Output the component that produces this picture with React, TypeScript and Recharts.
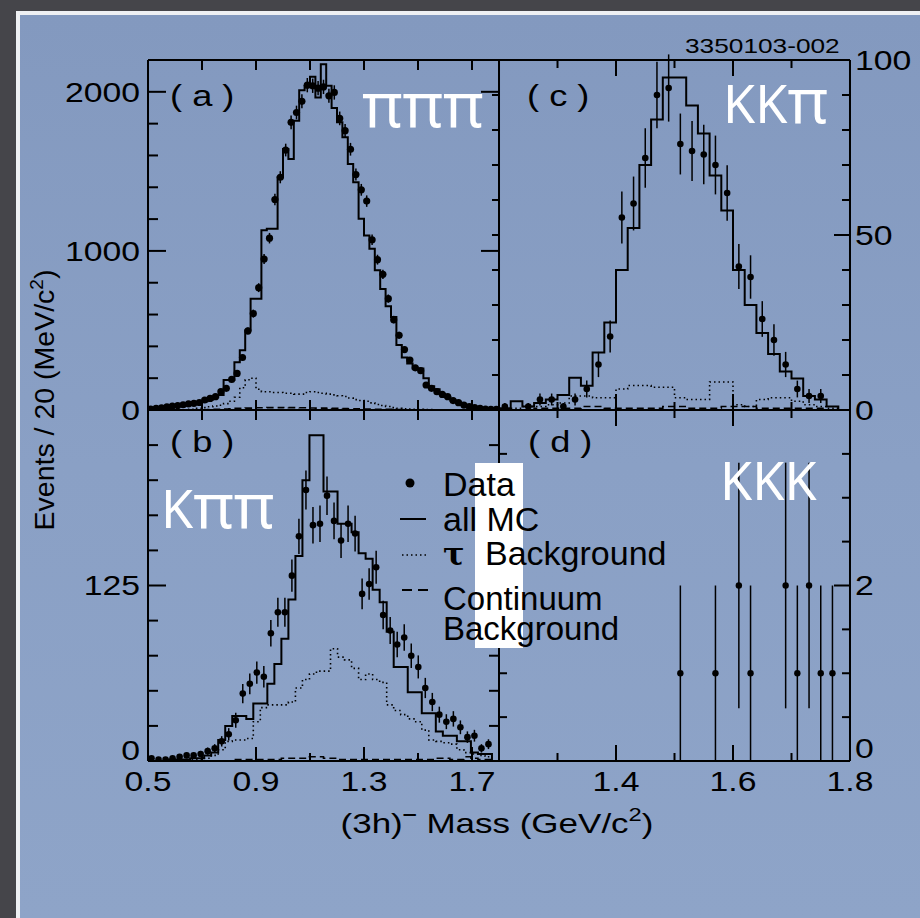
import React from "react";
import { ComposedChart, XAxis, YAxis, Line, Scatter, ErrorBar } from "recharts";

const W = 920;
const H = 918;
const FONT = "'Liberation Sans', Arial, Helvetica, sans-serif";
const HAND = "'Noto Sans', 'DejaVu Sans', sans-serif";
const TICK_COLOR = "#000";

// (a) pi pi pi : 65 bins of 20 MeV from 0.5 GeV
const A_START = 0.5;
const A_BIN = 0.02;
const aData = [5, 10, 14, 20, 25, 28, 33, 38, 42, 47, 63, 73, 84, 115, 136, 192, 230, 330, 497, 606, 769, 949, 1080, 1323, 1463, 1634, 1808, 1870, 1940, 2042, 2038, 2023, 2031, 1975, 1996, 1833, 1756, 1639, 1480, 1384, 1313, 1070, 945, 853, 700, 568, 470, 380, 314, 265, 247, 157, 136, 115, 98, 84, 59, 46, 31, 21, 15, 10, 6, 4, 4];
const aErr = [2, 3, 4, 4, 5, 5, 6, 6, 6, 7, 8, 9, 9, 11, 12, 14, 15, 18, 22, 25, 28, 31, 33, 36, 38, 40, 43, 43, 44, 45, 45, 45, 45, 44, 45, 43, 42, 40, 38, 37, 36, 33, 31, 29, 26, 24, 22, 19, 18, 16, 16, 13, 12, 11, 10, 9, 8, 7, 6, 5, 4, 3, 2, 2, 2];
const aMC = [5, 8, 12, 16, 20, 25, 30, 35, 40, 45, 55, 65, 80, 94, 188, 188, 300, 376, 500, 700, 700, 1130, 1139, 1139, 1463, 1640, 1578, 1818, 2010, 2038, 2094, 1965, 2174, 2038, 1898, 1808, 1714, 1547, 1432, 1202, 1097, 1014, 878, 760, 652, 585, 408, 330, 293, 261, 261, 199, 150, 130, 100, 80, 60, 45, 32, 22, 15, 10, 6, 4, 3];
const aTau = [0, 0, 0, 0, 0, 0, 2, 4, 5, 10, 15, 20, 25, 30, 40, 55, 80, 140, 190, 200, 130, 115, 115, 110, 110, 105, 105, 100, 100, 110, 115, 110, 105, 100, 95, 90, 85, 75, 65, 60, 55, 45, 35, 28, 22, 15, 10, 8, 6, 5, 4, 3, 3, 2, 2, 2, 1, 1, 1, 0, 0, 0, 0, 0, 0];
const aCont = [0, 0, 0, 0, 0, 0, 0, 0, 0, 0, 2, 3, 4, 5, 6, 8, 10, 10, 12, 12, 14, 14, 15, 15, 15, 16, 15, 15, 14, 14, 13, 12, 12, 11, 10, 10, 9, 8, 8, 7, 6, 6, 5, 5, 4, 4, 3, 3, 2, 2, 2, 1, 1, 1, 1, 0, 0, 0, 0, 0, 0, 0, 0, 0, 0];

// (b) K pi pi : 50 bins from 0.5 to 1.8 GeV
const B_START = 0.5;
const B_BIN = 0.026;
const bData = [2, 1, 1, 2, 3, 4, 4, 5, 7, 9, 14, 19, 29, 48, 55, 63, 60, 91, 106, 106, 132, 160, 193, 168, 169, 189, 171, 157, 169, 162, 119, 126, 138, 104, 93, 83, 88, 75, 67, 52, 42, 33, 28, 30, 24, 17, 18, 9, 12];
const bErr = [1.4, 1, 1, 1.4, 1.7, 2, 2, 2.2, 2.6, 3, 3.7, 4.4, 5.4, 6.9, 7.4, 7.9, 7.7, 9.5, 10.3, 10.3, 11.5, 12.6, 13.9, 13, 13, 13.7, 13.1, 12.5, 13, 12.7, 10.9, 11.2, 11.7, 10.2, 9.6, 9.1, 9.4, 8.7, 8.2, 7.2, 6.5, 5.7, 5.3, 5.5, 4.9, 4.1, 4.2, 3, 3.5];
const bMC = [0, 0, 0, 1, 1, 1, 2, 2, 4, 6, 15, 25, 32, 32, 30, 41, 41, 55, 69, 87, 115, 146, 200, 232, 232, 192, 192, 169, 169, 163, 148, 144, 122, 113, 92, 67, 67, 49, 49, 34, 34, 21, 18, 18, 14, 14, 6, 5, 5, 0];
const bTau = [0, 0, 0, 0, 0, 0, 1, 1, 2, 4, 8, 14, 15, 15, 16, 28, 38, 40, 40, 40, 42, 52, 58, 62, 64, 64, 80, 74, 72, 66, 58, 62, 58, 56, 40, 36, 33, 30, 28, 22, 15, 14, 13, 12, 8, 6, 5, 4, 3, 0];
const bCont = [0, 0, 0, 0, 0, 0, 0, 0, 0, 0, 0, 0, 1, 1, 1, 1, 1, 1, 1, 2, 2, 2, 2, 3, 3, 2, 2, 1, 1, 1, 1, 1, 1, 1, 1, 1, 1, 1, 1, 1, 1, 2, 2, 1, 1, 3, 2, 1, 1, 0];

// (c) K K pi : 30 bins of 20 MeV from 1.2 GeV
const C_START = 1.2;
const C_BIN = 0.02;
const cData: (number | null)[] = [1, null, 1, 3, 3, 1, 3, 6, 13, 21, 55, 59, 72, 90, 92, 76, 74, 73, 70, 62, 41, 38, 26, 20, 13, 6, 4, 4, null, null];
const cErr = [1, 0, 1, 1.7, 1.7, 1, 1.7, 2.4, 3.6, 4.6, 7.4, 7.7, 8.5, 9.5, 9.6, 8.7, 8.6, 8.5, 8.4, 7.9, 6.4, 6.2, 5.1, 4.5, 3.6, 2.4, 2, 2, 0, 0];
const cMC = [0.5, 2.5, 1, 2, 3, 4.3, 9.2, 6.9, 16.4, 25, 40, 52, 70, 83, 95, 95, 87, 79, 67, 57, 40, 30, 22, 16, 11, 9, 4, 3, 1, 0];
const cTau = [0, 0.5, 1, 1, 1.5, 2, 4, 4, 3.5, 3.5, 6, 7, 7, 6.5, 6.5, 3.5, 3, 3, 8, 8, 1.5, 1, 3, 3.5, 3.5, 2.5, 1.5, 1, 0.5, 0];
const cCont = [0, 0, 0, 0.5, 0.5, 0.5, 0.5, 1, 1, 0.5, 0.5, 0.5, 0.5, 0.5, 1, 1, 0.5, 0.5, 0.5, 1, 1, 1, 0.5, 0.5, 0.5, 0.5, 0.5, 0.5, 0, 0];

// (d) K K K
const dMass = [1.51, 1.57, 1.61, 1.63, 1.69, 1.71, 1.73, 1.75, 1.77];
const dData = [1, 1, 2, 1, 2, 1, 2, 1, 1];
const dErr = [1, 1, 1.4, 1, 1.4, 1, 1.4, 1, 1];

// axis ticks
const LEFT_X = [0.5, 1.8];
const RIGHT_X = [1.2, 1.8];
const xTicksLeft = [0.7, 0.9, 1.1, 1.3, 1.5, 1.7];
const xLabelsLeft = [0.5, 0.9, 1.3, 1.7];
const xTicksRight = [1.3, 1.4, 1.5, 1.6, 1.7];
const xMajorRight = [1.4, 1.6];
const xLabelsRight = [1.4, 1.6, 1.8];
const aMinor = [200, 400, 600, 800, 1200, 1400, 1600, 1800];
const aMajor = [0, 1000, 2000];
const bMinor = [25, 50, 75, 100, 150, 175, 200, 225];
const bMajor = [0, 125];
const cMinor = [10, 20, 30, 40, 60, 70, 80, 90];
const cLeft = [10, 20, 30, 40, 50, 60, 70, 80, 90];
const cMajor = [0, 50, 100];
const dMinor = [0.5, 1, 1.5, 2.5, 3, 3.5];
const dLeft = [0.5, 1, 1.5, 2, 2.5, 3, 3.5];
const dMajor = [0, 2];

const histo = (start: number, bin: number, vals: number[]) => {
  const pts = vals.map((v, i) => ({ x: +(start + i * bin).toFixed(4), y: v }));
  pts.push({ x: +(start + vals.length * bin).toFixed(4), y: vals[vals.length - 1] });
  return pts;
};
const centers = (start: number, bin: number, n: number) =>
  Array.from({ length: n }, (_, i) => +(start + (i + 0.5) * bin).toFixed(4));
const points = (xs: number[], ys: (number | null)[], errs: number[]) =>
  xs.map((x, i) => ({ x, y: ys[i], err: errs[i] })).filter((p) => p.y !== null);

const AX = { stroke: "#000", strokeWidth: 2 };
// axes take (almost) no room: the margins place each panel
const THIN = 0.01;

type Lab = { dx: number; dy: number; anchor: "start" | "end" | "middle"; zeroDy?: number };

// draws the tick mark (pointing back to the axis) and an optional label
const tickMark = (len: number, ddx: number, ddy: number, lab?: Lab) => (props: any) => {
  const x = Number(props.x);
  const y = Number(props.y);
  const v = props.payload.value;
  return (
    <g>
      <line x1={x} y1={y} x2={x + ddx * len} y2={y + ddy * len} stroke={TICK_COLOR} strokeWidth={2} />
      {lab && (
        <text
          transform={`translate(${x + lab.dx},${y + lab.dy + (v === 0 ? lab.zeroDy ?? 0 : 0)}) scale(1.25,1)`}
          textAnchor={lab.anchor}
          dominantBaseline="central"
          fontFamily={FONT}
          fontSize={27}
          fill="#000"
        >
          {String(v)}
        </text>
      )}
    </g>
  );
};

function xAx(id: string, domain: number[], ticks: number[], orientation: "top" | "bottom", len: number, lab?: Lab) {
  return (
    <XAxis
      key={id}
      xAxisId={id}
      type="number"
      dataKey="x"
      domain={domain}
      ticks={ticks}
      interval={0}
      orientation={orientation}
      mirror
      height={THIN}
      tickSize={len}
      tickMargin={0}
      tickLine={false}
      axisLine={AX}
      tick={tickMark(len, 0, orientation === "bottom" ? 1 : -1, lab)}
      allowDataOverflow
    />
  );
}

function yAx(id: string, domain: number[], ticks: number[], orientation: "left" | "right", len: number, lab?: Lab, mirror = true) {
  const ddx = orientation === "left" && mirror ? -1 : 1;
  return (
    <YAxis
      key={id}
      yAxisId={id}
      type="number"
      dataKey="y"
      domain={domain}
      ticks={ticks}
      interval={0}
      orientation={orientation}
      mirror={mirror}
      width={THIN}
      tickSize={len}
      tickMargin={0}
      tickLine={false}
      axisLine={AX}
      tick={tickMark(len, ddx, 0, lab)}
      allowDataOverflow
    />
  );
}

const dot = (r: number) => (p: any) => <circle cx={p.cx} cy={p.cy} r={r} fill="#000" />;

function series(start: number, bin: number, mc: number[] | null, tau: number[] | null, cont: number[] | null, pts: any[], r: number) {
  return [
    tau && (
      <Line key="tau" xAxisId="x" yAxisId="y" data={histo(start, bin, tau)} dataKey="y" type="stepAfter"
        stroke="#000" strokeWidth={1.6} strokeDasharray="1.5 3" dot={false} isAnimationActive={false} />
    ),
    cont && (
      <Line key="cont" xAxisId="x" yAxisId="y" data={histo(start, bin, cont)} dataKey="y" type="stepAfter"
        stroke="#000" strokeWidth={1.6} strokeDasharray="7 4" dot={false} isAnimationActive={false} />
    ),
    mc && (
      <Line key="mc" xAxisId="x" yAxisId="y" data={histo(start, bin, mc)} dataKey="y" type="stepAfter"
        stroke="#000" strokeWidth={2} dot={false} isAnimationActive={false} />
    ),
    <Scatter key="data" xAxisId="x" yAxisId="y" data={pts} shape={dot(r)} isAnimationActive={false}>
      <ErrorBar dataKey="err" direction="y" width={0} stroke="#000" strokeWidth={1.5} />
    </Scatter>,
  ];
}

const abs: React.CSSProperties = { position: "absolute", left: 0, top: 0 };

function SText({ x, y, size, anchor = "start", sx = 1.25, fill = "#000", family = FONT, children }: any) {
  return (
    <text transform={`translate(${x},${y}) scale(${sx},1)`} fontSize={size} fontFamily={family} textAnchor={anchor} fill={fill}>
      {children}
    </text>
  );
}

export default function App() {
  const aPts = points(centers(A_START, A_BIN, aData.length), aData, aErr);
  const bPts = points(centers(B_START, B_BIN, bData.length), bData, bErr);
  const cPts = points(centers(C_START, C_BIN, cData.length), cData, cErr);
  const dPts = points(dMass, dData, dErr);

  return (
    <div style={{ position: "absolute", left: 0, top: 0, width: W, height: H, background: "#45454a", overflow: "hidden" }}>
      <div style={{ position: "absolute", left: 16, top: 11, right: 0, bottom: 0, background: "#eef0f3" }} />
      <div
        style={{
          position: "absolute",
          left: 20,
          top: 15,
          right: 0,
          bottom: 0,
          background: "linear-gradient(180deg, #8399bf 0%, #8aa0c5 50%, #8ea4c8 100%)",
        }}
      />

      {/* (a) pi pi pi */}
      <div style={abs}>
        <ComposedChart width={W} height={H} margin={{ top: 60, left: 148, right: W - 499, bottom: H - 410 }}>
          {xAx("x", LEFT_X, xTicksLeft, "bottom", 10)}
          {xAx("xt", LEFT_X, xTicksLeft, "top", 10)}
          {yAx("y", [0, 2200], aMinor, "left", 10)}
          {yAx("yM", [0, 2200], aMajor, "left", 18, { dx: -26, dy: 0, anchor: "end" })}
          {yAx("yR", [0, 2200], [1000, 2000], "right", 18)}
          {series(A_START, A_BIN, aMC, aTau, aCont, aPts, 3.6)}
        </ComposedChart>
      </div>

      {/* (b) K pi pi */}
      <div style={abs}>
        <ComposedChart width={W} height={H} margin={{ top: 410, left: 148, right: W - 499, bottom: H - 761 }}>
          {xAx("x", LEFT_X, xTicksLeft, "bottom", 8)}
          {xAx("xM", LEFT_X, xLabelsLeft, "bottom", 14, { dx: 0, dy: 34, anchor: "middle" })}
          {xAx("xt", LEFT_X, xTicksLeft, "top", 10)}
          {yAx("y", [0, 250], bMinor, "left", 10)}
          {yAx("yM", [0, 250], bMajor, "left", 18, { dx: -26, dy: 0, anchor: "end", zeroDy: -11 })}
          {yAx("yR", [0, 250], bMinor, "right", 10)}
          {series(B_START, B_BIN, bMC, bTau, bCont, bPts, 3.3)}
        </ComposedChart>
      </div>

      {/* (c) K K pi */}
      <div style={abs}>
        <ComposedChart width={W} height={H} margin={{ top: 60, left: 499, right: W - 850, bottom: H - 410 }}>
          {xAx("x", RIGHT_X, xTicksRight, "bottom", 8)}
          {xAx("xM", RIGHT_X, xMajorRight, "bottom", 16)}
          {xAx("xt", RIGHT_X, xTicksRight, "top", 8)}
          {xAx("xtM", RIGHT_X, xMajorRight, "top", 16)}
          {yAx("y", [0, 100], cMinor, "right", 8)}
          {yAx("yM", [0, 100], cMajor, "right", 16, { dx: 21, dy: 0, anchor: "start" })}
          {yAx("yL", [0, 100], cLeft, "left", 7, undefined, false)}
          {series(C_START, C_BIN, cMC, cTau, cCont, cPts, 3.3)}
        </ComposedChart>
      </div>

      {/* (d) K K K */}
      <div style={abs}>
        <ComposedChart width={W} height={H} margin={{ top: 410, left: 499, right: W - 850, bottom: H - 761 }}>
          {xAx("x", RIGHT_X, xTicksRight, "bottom", 8)}
          {xAx("xM", RIGHT_X, xLabelsRight, "bottom", 16, { dx: 0, dy: 36, anchor: "middle" })}
          {xAx("xt", RIGHT_X, xTicksRight, "top", 8)}
          {xAx("xtM", RIGHT_X, xMajorRight, "top", 16)}
          {yAx("y", [0, 4], dMinor, "right", 8)}
          {yAx("yM", [0, 4], dMajor, "right", 16, { dx: 21, dy: 0, anchor: "start", zeroDy: -13 })}
          {yAx("yL", [0, 4], dLeft, "left", 8)}
          {series(C_START, C_BIN, null, null, null, dPts, 3.2)}
        </ComposedChart>
      </div>

      {/* labels, titles and legend */}
      <svg width={W} height={H} style={abs}>
        <SText x={685} y={53} size={21}>3350103-002</SText>

        <SText x={170} y={106} size={29}>( a )</SText>
        <SText x={527} y={106} size={29}>( c )</SText>
        <SText x={170} y={452} size={29}>( b )</SText>
        <SText x={528} y={452} size={29}>( d )</SText>

        <SText x={362} y={127} size={62} sx={1} fill="#fff" family={HAND}>πππ</SText>
        <SText x={723} y={123} size={52} sx={1} fill="#fff" family={HAND}>
          KK<tspan fontSize={62}>π</tspan>
        </SText>
        <SText x={161} y={528} size={52} sx={1} fill="#fff" family={HAND}>
          K<tspan fontSize={62}>ππ</tspan>
        </SText>
        <SText x={720} y={500} size={52} sx={1} fill="#fff" family={HAND}>KKK</SText>

        <rect x={475} y={463} width={48} height={185} fill="#fff" />
        <circle cx={410} cy={483} r={4.5} fill="#000" />
        <line x1={400} x2={426} y1={519} y2={519} stroke="#000" strokeWidth={2} />
        <line x1={402} x2={426} y1={555} y2={555} stroke="#000" strokeWidth={1.6} strokeDasharray="1.5 3" />
        <line x1={402} x2={428} y1={590} y2={590} stroke="#000" strokeWidth={2} strokeDasharray="10 6" />
        <SText x={443} y={496} size={34} sx={1}>Data</SText>
        <SText x={443} y={531} size={34} sx={1}>all MC</SText>
        <text x={443} y={565} fontSize={32} fontWeight="bold" fontFamily="'DejaVu Serif', serif" fill="#000">τ</text>
        <SText x={485} y={565} size={34} sx={1}>Background</SText>
        <SText x={443} y={610} size={33} sx={1}>Continuum</SText>
        <SText x={443} y={640} size={33} sx={1}>Background</SText>

        <SText x={497} y={833} size={28} anchor="middle">
          (3h)<tspan dy={-13} fontSize={20} fontWeight="bold">–</tspan>
          <tspan dy={13}> Mass (GeV/c</tspan>
          <tspan dy={-12} fontSize={19}>2</tspan>
          <tspan dy={12}>)</tspan>
        </SText>
        <text transform="translate(54,400) rotate(-90)" textAnchor="middle" fontSize={28.5} fontFamily={FONT} fill="#000">
          Events / 20 (MeV/c<tspan dy={-11} fontSize={19}>2</tspan>
          <tspan dy={11}>)</tspan>
        </text>
      </svg>
    </div>
  );
}
